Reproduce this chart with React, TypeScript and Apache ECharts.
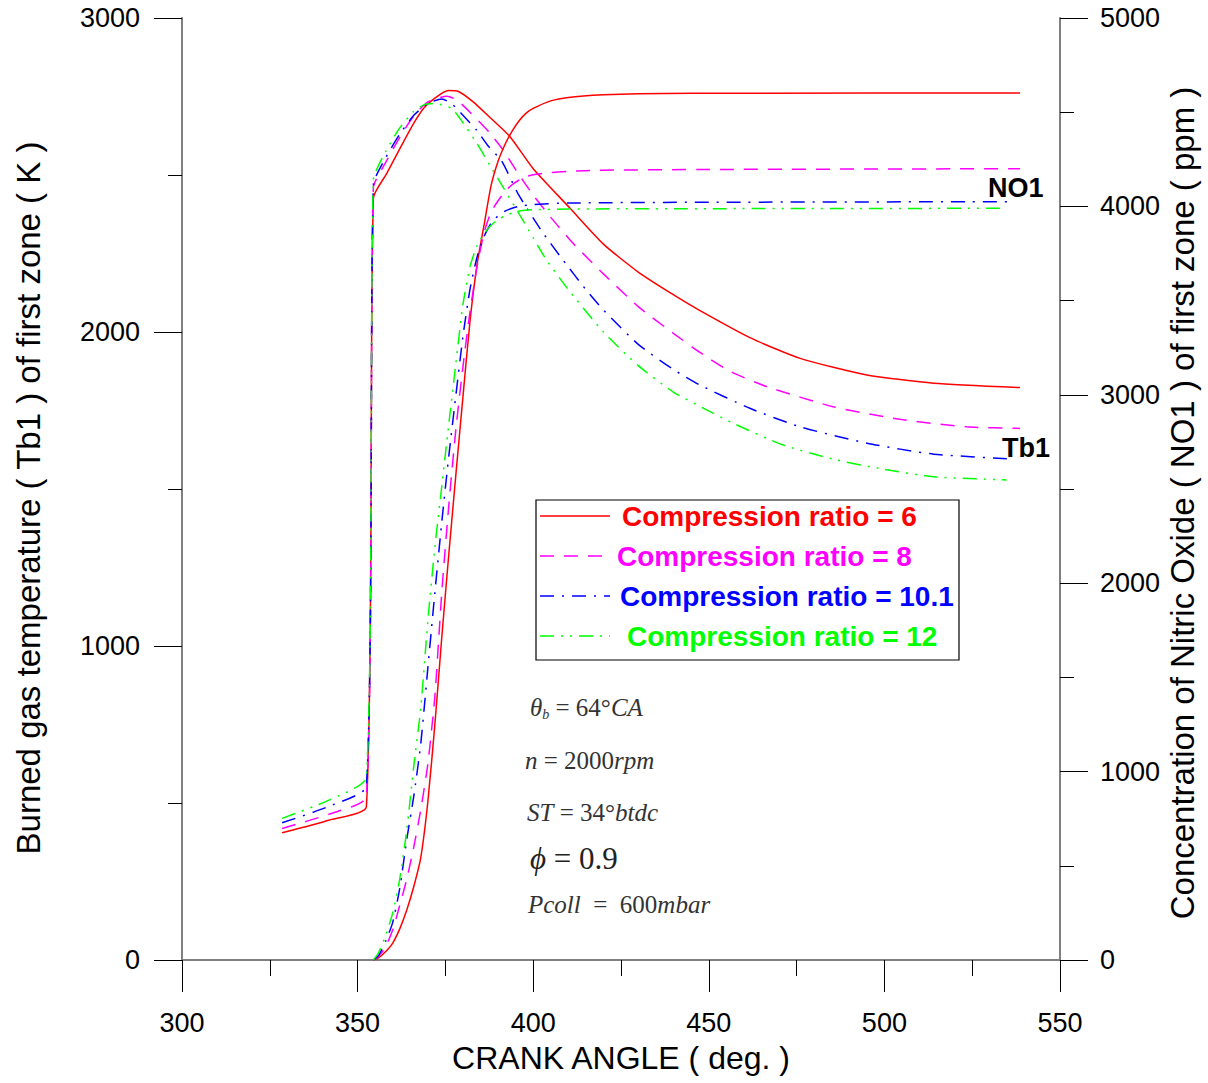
import React, { useEffect, useRef } from "react";
import * as echarts from "echarts";

// ---------- data ----------
const crankMin = 300;
const crankMax = 550;
const crankInterval = 50;

// Burned gas temperature Tb1 (K) vs crank angle (deg)
const tb1Cr6: [number, number][] = [
  [328.5, 405], [342, 446], [352.5, 488], [354.5, 2427], [358.3, 2505], [362, 2583], [366, 2665],
  [369, 2715], [372.5, 2749], [375.8, 2769], [378.7, 2766], [382.9, 2733], [388, 2680], [393.4, 2622],
  [400, 2520], [410.5, 2394], [420, 2280], [430, 2190], [440, 2118], [447.5, 2068], [461.7, 1982],
  [476, 1916], [495, 1863], [514, 1837], [538.6, 1823],
];
const tb1Cr8: [number, number][] = [
  [328.5, 419], [342, 465], [352.5, 520], [354.5, 2460], [358, 2540], [362, 2620], [366, 2688],
  [370, 2733], [375.4, 2751], [378.2, 2739], [382, 2700], [387.7, 2633], [391.4, 2580], [395.7, 2505],
  [400, 2436], [405, 2365], [410.5, 2293], [414, 2252], [420, 2185], [430, 2080], [440, 1995],
  [447.5, 1935], [456, 1875], [466.5, 1826], [485.4, 1762], [504.4, 1722], [523.4, 1698], [538.6, 1693],
];
const tb1Cr101: [number, number][] = [
  [328.5, 437], [342, 490], [352.5, 554], [354.5, 2470], [358, 2555], [362, 2630], [366, 2690],
  [370, 2728], [374, 2742], [377, 2725], [380, 2690], [383.9, 2643], [387, 2595], [391, 2545],
  [395.7, 2440], [402.2, 2325], [408.5, 2229], [415, 2135], [420, 2070], [430, 1960], [440, 1880],
  [447.5, 1831], [461.7, 1757], [476, 1698], [495, 1646], [514, 1611], [536.2, 1596],
];
const tb1Cr12: [number, number][] = [
  [328.5, 451], [342, 510], [352.5, 582], [354.5, 2485], [358, 2575], [362, 2650], [366, 2703],
  [369, 2724], [372, 2728], [376.8, 2712], [380.1, 2665], [384, 2600], [387.7, 2530], [391.5, 2460],
  [395.3, 2389], [400, 2300], [403.8, 2229], [410, 2135], [420, 2000], [430, 1892], [440, 1808],
  [449.4, 1752], [457, 1709], [471.2, 1640], [485.4, 1595], [499.7, 1563], [514, 1539], [534.8, 1529],
];

// Nitric oxide NO1 (ppm) vs crank angle (deg)
const no1Cr6: [number, number][] = [
  [354.5, 0], [356, 12], [358, 45], [360, 90], [362, 165], [364, 265], [366, 390], [368, 545],
  [370, 840], [372, 1250], [374, 1720], [376, 2160], [378, 2580], [380, 2990], [382, 3390],
  [384, 3690], [386, 3900], [388, 4110], [390, 4240], [392, 4330], [394, 4400], [396, 4455],
  [398, 4495], [400, 4520], [405, 4560], [410, 4578], [420, 4592], [430, 4598], [460, 4601], [538.6, 4602],
];
const no1Cr8: [number, number][] = [
  [354.5, 0], [356, 20], [358, 70], [360, 160], [362, 290], [364, 430], [366, 600], [368, 800],
  [370, 1040], [372, 1400], [374, 1960], [376, 2420], [378, 2820], [380, 3150], [382, 3440],
  [384, 3680], [386, 3860], [388, 3970], [390, 4030], [392, 4080], [394, 4115], [396, 4140],
  [398, 4158], [400, 4168], [405, 4180], [410, 4186], [420, 4192], [450, 4196], [538.6, 4200],
];
const no1Cr101: [number, number][] = [
  [354.5, 0], [356, 25], [358, 100], [360, 200], [362, 380], [364, 640], [366, 870], [368, 1150],
  [370, 1550], [372, 1950], [374, 2330], [376, 2680], [378, 3000], [380, 3310], [382, 3560],
  [384, 3730], [386, 3840], [388, 3910], [390, 3950], [392, 3975], [394, 3990], [396, 4000],
  [400, 4010], [410, 4018], [450, 4022], [536.2, 4025],
];
const no1Cr12: [number, number][] = [
  [354.5, 0], [356, 40], [358, 130], [360, 250], [362, 430], [364, 690], [366, 1030], [368, 1340],
  [370, 1800], [372, 2190], [374, 2520], [376, 2850], [378, 3170], [380, 3480], [382, 3680],
  [384, 3790], [386, 3855], [388, 3900], [390, 3930], [392, 3950], [394, 3965], [396, 3975],
  [400, 3982], [410, 3986], [450, 3988], [534.8, 3990],
];

const ratioLabels = [
  "Compression ratio = 6",
  "Compression ratio = 8",
  "Compression ratio = 10.1",
  "Compression ratio = 12",
];
const ratioColors = ["#ff0000", "#ff00ff", "#0000ff", "#00ff00"];
const ratioDashes: any[] = ["solid", [14, 10], [14, 8, 2, 8], [14, 7, 2, 7, 2, 7]];

const tb1Sets = [tb1Cr6, tb1Cr8, tb1Cr101, tb1Cr12];
const no1Sets = [no1Cr6, no1Cr8, no1Cr101, no1Cr12];

const xTitle = "CRANK ANGLE ( deg. )";
const leftTitle = "Burned gas temperature ( Tb1 ) of first zone ( K )";
const rightTitle = "Concentration of Nitric Oxide ( NO1 ) of first zone ( ppm )";

const FONT = "'Liberation Sans', Arial, sans-serif";
const SERIF = "'Liberation Serif', 'Times New Roman', serif";

export default function App() {
  const ref = useRef<HTMLDivElement>(null);

  useEffect(() => {
    if (!ref.current) return;
    const chart = echarts.init(ref.current, undefined, { renderer: "svg" });

    const series: any[] = [];
    tb1Sets.forEach((d, i) => {
      series.push({
        name: "Tb1 " + ratioLabels[i],
        type: "line",
        xAxisIndex: 0,
        yAxisIndex: 0,
        data: d,
        showSymbol: false,
        symbol: "none",
        smooth: 0.2,
        lineStyle: { color: ratioColors[i], width: 1.5, type: ratioDashes[i] },
        z: 3,
      });
    });
    no1Sets.forEach((d, i) => {
      series.push({
        name: "NO1 " + ratioLabels[i],
        type: "line",
        xAxisIndex: 0,
        yAxisIndex: 1,
        data: d,
        showSymbol: false,
        symbol: "none",
        smooth: 0.2,
        lineStyle: { color: ratioColors[i], width: 1.5, type: ratioDashes[i] },
        z: 3,
      });
    });

    const axisLineStyle = { color: "#808080", width: 2 };
    const tickStyle = { color: "#000", width: 1 };
    const plainNum = (v: number) => String(v);

    const legendRows = [516, 556, 596, 636];
    const legendTextX = [622, 617, 620, 627];
    const legendGraphics: any[] = [
      {
        type: "rect",
        shape: { x: 536, y: 500, width: 423, height: 160 },
        style: { fill: "#fff", stroke: "#000", lineWidth: 1.2 },
        z: 100,
      },
    ];
    ratioLabels.forEach((lab, i) => {
      legendGraphics.push({
        type: "line",
        shape: { x1: 540, y1: legendRows[i], x2: 610, y2: legendRows[i] },
        style: { stroke: ratioColors[i], lineWidth: 1.5, lineDash: ratioDashes[i] === "solid" ? null : ratioDashes[i] },
        z: 101,
      });
      legendGraphics.push({
        type: "text",
        x: legendTextX[i],
        y: legendRows[i],
        style: {
          text: lab,
          fill: ratioColors[i],
          font: `bold 28px ${FONT}`,
          textVerticalAlign: "middle",
          verticalAlign: "middle",
        },
        z: 101,
      });
    });

    const richStyles = {
      it: { fontFamily: SERIF, fontStyle: "italic", fontSize: 25, fill: "#333", color: "#333" },
      up: { fontFamily: SERIF, fontSize: 25, fill: "#333", color: "#333" },
      sub: { fontFamily: SERIF, fontStyle: "italic", fontSize: 14, fill: "#333", color: "#333", verticalAlign: "bottom", padding: [14, 0, 0, 0] },
      big: { fontFamily: SERIF, fontStyle: "italic", fontSize: 31, fill: "#222", color: "#222" },
      bigup: { fontFamily: SERIF, fontSize: 31, fill: "#222", color: "#222" },
    };

    const annot = (x: number, y: number, text: string) => ({
      type: "text",
      x,
      y,
      style: {
        text,
        rich: richStyles,
        verticalAlign: "middle",
        textVerticalAlign: "middle",
      },
      z: 100,
    });

    const option: any = {
      animation: false,
      backgroundColor: "#fff",
      grid: { left: 182, right: 148, top: 18, bottom: 123, containLabel: false },
      xAxis: {
        type: "value",
        min: crankMin,
        max: crankMax,
        interval: crankInterval,
        axisLine: { show: true, lineStyle: axisLineStyle, onZero: false },
        axisTick: { show: true, length: 32, lineStyle: tickStyle },
        minorTick: { show: true, splitNumber: 2, length: 16, lineStyle: tickStyle },
        splitLine: { show: false },
        minorSplitLine: { show: false },
        axisLabel: { fontSize: 27, color: "#000", fontFamily: FONT, margin: 49, formatter: plainNum },
        name: xTitle,
        nameLocation: "middle",
        nameGap: 82,
        nameTextStyle: { fontSize: 32, color: "#000", fontFamily: FONT },
      },
      yAxis: [
        {
          type: "value",
          position: "left",
          min: 0,
          max: 3000,
          interval: 1000,
          axisLine: { show: true, lineStyle: axisLineStyle, onZero: false },
          axisTick: { show: true, length: 28, lineStyle: tickStyle },
          minorTick: { show: true, splitNumber: 2, length: 14, lineStyle: tickStyle },
          splitLine: { show: false },
          minorSplitLine: { show: false },
          axisLabel: { fontSize: 27, color: "#000", fontFamily: FONT, margin: 42, formatter: plainNum },
        },
        {
          type: "value",
          position: "right",
          min: 0,
          max: 5000,
          interval: 1000,
          axisLine: { show: true, lineStyle: axisLineStyle, onZero: false },
          axisTick: { show: true, length: 28, lineStyle: tickStyle },
          minorTick: { show: true, splitNumber: 2, length: 14, lineStyle: tickStyle },
          splitLine: { show: false },
          minorSplitLine: { show: false },
          axisLabel: { fontSize: 27, color: "#000", fontFamily: FONT, margin: 40, formatter: plainNum },
        },
      ],
      series,
      graphic: [
        ...legendGraphics,
        {
          type: "text",
          x: 28,
          y: 498,
          rotation: Math.PI / 2,
          style: { text: leftTitle, font: `33px ${FONT}`, fill: "#000", align: "center", textAlign: "center", verticalAlign: "middle", textVerticalAlign: "middle" },
          z: 100,
        },
        {
          type: "text",
          x: 1182,
          y: 503,
          rotation: Math.PI / 2,
          style: { text: rightTitle, font: `33px ${FONT}`, fill: "#000", align: "center", textAlign: "center", verticalAlign: "middle", textVerticalAlign: "middle" },
          z: 100,
        },
        {
          type: "text",
          x: 988,
          y: 188,
          style: { text: "NO1", font: `bold 27px ${FONT}`, fill: "#000", verticalAlign: "middle", textVerticalAlign: "middle" },
          z: 100,
        },
        {
          type: "text",
          x: 1002,
          y: 448,
          style: { text: "Tb1", font: `bold 27px ${FONT}`, fill: "#000", verticalAlign: "middle", textVerticalAlign: "middle" },
          z: 100,
        },
        annot(530, 707, "{it|θ}{sub|b}{up| = 64°}{it|CA}"),
        annot(525, 760, "{it|n}{up| = 2000}{it|rpm}"),
        annot(527, 812, "{it|ST}{up| = 34°}{it|btdc}"),
        annot(530, 858, "{big|ϕ}{bigup| = 0.9}"),
        annot(528, 904, "{it|Pcoll}{up|  =  600}{it|mbar}"),
      ],
    };

    chart.setOption(option);
    return () => chart.dispose();
  }, []);

  return (
    <div
      ref={ref}
      style={{ position: "absolute", left: 0, top: 0, width: 1208, height: 1083, background: "#fff" }}
    />
  );
}
